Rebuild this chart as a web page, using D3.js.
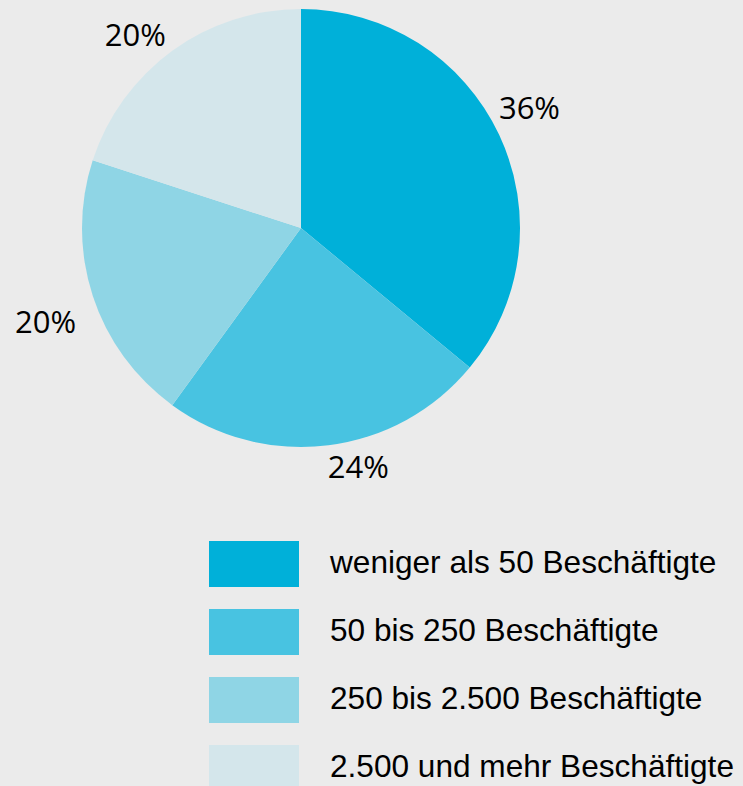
<!DOCTYPE html>
<html>
<head>
<meta charset="utf-8">
<script src="https://cdn.jsdelivr.net/npm/d3@7"></script>
<style>
  html, body { margin: 0; padding: 0; background: #ebebeb; }
  svg { display: block; }
</style>
</head>
<body>
<svg id="chart" width="743" height="786"></svg>
<script>
const categories = [
  "weniger als 50 Beschäftigte",
  "50 bis 250 Beschäftigte",
  "250 bis 2.500 Beschäftigte",
  "2.500 und mehr Beschäftigte"
];
const values = [36, 24, 20, 20];
const percentLabels = ["36%", "24%", "20%", "20%"];
const colors = ["#00b0d9", "#48c3e1", "#8fd5e5", "#d4e6eb"];
const labelNudge = [[-5, -10], [25, -17], [-10, 14], [-14, 16]];

const svg = d3.select("#chart");
svg.append("rect").attr("width", 743).attr("height", 786).attr("fill", "#ebebeb");

const cx = 301, cy = 228, r = 219;
const data = values.map((v, i) => ({ v, i }));
const pie = d3.pie().value(d => d.v).sort(null);
const arcs = pie(data);
const arc = d3.arc().innerRadius(0).outerRadius(r);
const labelArc = d3.arc().innerRadius(258).outerRadius(258);
const color = d3.scaleOrdinal().domain(categories).range(colors);

const g = svg.append("g").attr("transform", `translate(${cx},${cy})`);
g.selectAll("path").data(arcs).join("path")
  .attr("d", arc)
  .attr("fill", d => color(categories[d.data.i]));

g.selectAll("text").data(arcs).join("text")
  .attr("x", d => labelArc.centroid(d)[0] + labelNudge[d.data.i][0])
  .attr("y", d => labelArc.centroid(d)[1] + labelNudge[d.data.i][1] + 11)
  .attr("text-anchor", "middle")
  .attr("font-family", "'Open Sans', 'Noto Sans', sans-serif")
  .attr("font-size", 31)
  .attr("fill", "#000")
  .text(d => percentLabels[d.data.i]);

const legend = svg.append("g");
const ly = d3.scalePoint().domain(categories).range([541, 745]);
legend.selectAll("rect").data(categories).join("rect")
  .attr("x", 209).attr("y", d => ly(d))
  .attr("width", 90).attr("height", 46)
  .attr("fill", d => color(d));
legend.selectAll("text").data(categories).join("text")
  .attr("x", 330).attr("y", d => ly(d) + 32)
  .attr("font-family", "'Liberation Sans', Arial, sans-serif")
  .attr("font-size", 31.6)
  .attr("fill", "#000")
  .text(d => d);
</script>
</body>
</html>
